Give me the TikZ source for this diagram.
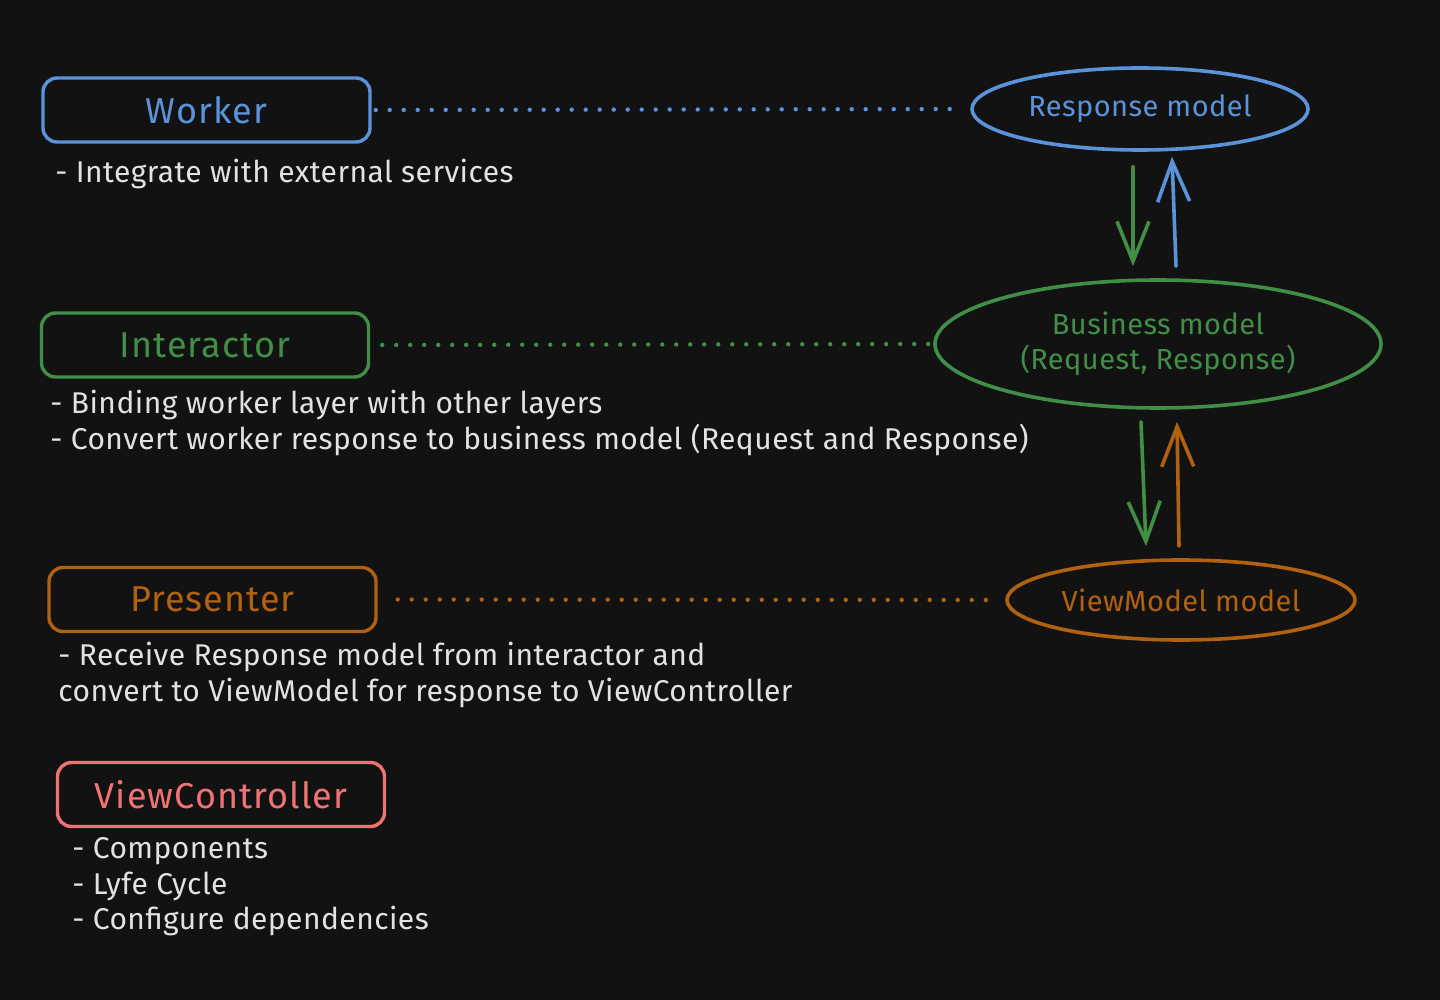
\documentclass[tikz,border=0pt]{standalone}
\usepackage{fontspec}
\setmainfont{Fira Sans}
\usetikzlibrary{shapes.geometric,arrows.meta,calc}
\definecolor{bg}{HTML}{121212}
\definecolor{cblue}{HTML}{5B93DB}
\definecolor{cgreen}{HTML}{418F47}
\definecolor{corange}{HTML}{B06210}
\definecolor{cred}{HTML}{F07373}
\definecolor{ctext}{HTML}{E2E2E2}
\newfontfamily\descfont[LetterSpace=1.5]{Fira Sans}
\newfontfamily\labelfont[LetterSpace=3]{Fira Sans}
\tikzset{
 box/.style={draw, rounded corners=7pt, line width=1.7pt, minimum width=163.5pt, minimum height=32pt, inner sep=0pt, font=\labelfont\fontsize{18}{21}\selectfont},
 oval/.style={ellipse, draw, line width=1.8pt, inner sep=0pt, font=\descfont\fontsize{14.5}{17.5}\selectfont, align=center},
 desc/.style={anchor=west, text=ctext, inner sep=0pt, font=\descfont\fontsize{15}{17.75}\selectfont, align=left},
 dots/.style={line width=2.2pt, line cap=round, dash pattern=on 0pt off 7pt},
 arr/.style={line width=1.8pt, line cap=round, -{Straight Barb[length=20pt,width=16pt,line width=1.8pt]}},
}
\begin{document}
\begin{tikzpicture}[x=0.5pt,y=-0.5pt]
\useasboundingbox (0,0) rectangle (1440,1000);
\fill[bg] (0,0) rectangle (1440,1000);

% left boxes
\node[box, draw=cblue, text=cblue] (worker) at (206.5,110) {Worker};
\node[box, draw=cgreen, text=cgreen] (interactor) at (205,345) {Interactor};
\node[box, draw=corange, text=corange] (presenter) at (212.5,599.5) {Presenter};
\node[box, draw=cred, text=cred] (vc) at (221,794.5) {ViewController};

% descriptions
\node[desc] (wdesc) at (55,174) {- Integrate with external services};
\node[desc] (idesc) at (50,423) {- Binding worker layer with other layers\\- Convert worker response to business model (Request and Response)};
\node[desc] (pdesc) at (58,675) {- Receive Response model from interactor and\\convert to ViewModel for response to ViewController};
\node[desc] (vdesc) at (72,887) {- Components\\- Lyfe Cycle\\- Configure dependencies};

% models
\node[oval, draw=cblue, text=cblue, minimum width=168pt, minimum height=41pt] (resp) at (1140,109) {Response model};
\node[oval, draw=cgreen, text=cgreen, minimum width=223pt, minimum height=64pt] (biz) at (1158,344) {Business model\\(Request, Response)};
\node[oval, draw=corange, text=corange, minimum width=174pt, minimum height=40pt] (vm) at (1181,600) {ViewModel model};

% dotted links
\draw[dots, cblue, shorten <=2pt, shorten >=7pt] (worker.east) -- (resp.west);
\draw[dots, cgreen, shorten <=6pt, shorten >=2pt] (interactor.east) -- (biz.west);
\draw[dots, corange, shorten <=10pt, shorten >=4pt] (presenter.east) -- (vm.west);

% arrows
\draw[arr, cgreen] ($(resp.south)+(-7,15)$) -- ($(biz.north)+(-25,-12)$);
\draw[arr, cblue] ($(biz.north)+(18,-12)$) -- ($(resp.south)+(32,5)$);
\draw[arr, cgreen] ($(biz.south)+(-17,12)$) -- ($(vm.north)+(-35,-12)$);
\draw[arr, corange] ($(vm.north)+(-2,-12)$) -- ($(biz.south)+(19,12)$);
\end{tikzpicture}
\end{document}
